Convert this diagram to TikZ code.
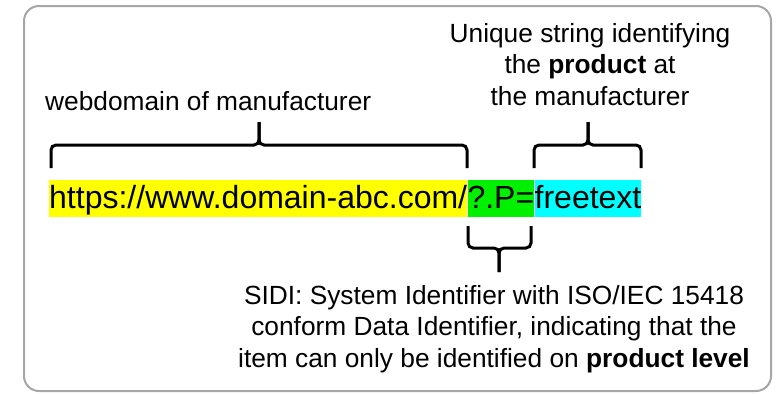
\documentclass[tikz,border=0pt]{standalone}
\usepackage{fontspec}
\setmainfont{Liberation Sans}
\usetikzlibrary{calc}
\definecolor{framegray}{RGB}{166,166,166}
\definecolor{hlyellow}{RGB}{255,255,0}
\definecolor{hlgreen}{RGB}{0,240,0}
\definecolor{hlcyan}{RGB}{0,255,255}
\newcommand{\mybrace}[6]{%
  \draw[bracestyle] (#1,#4) -- (#1,#5) -- (#3,#5) -- (#3,#6);
  \draw[bracestyle] (#2,#4) -- (#2,#5) -- (#3,#5) -- (#3,#6);}
\begin{document}
\begin{tikzpicture}[x=1pt,y=-1pt,
  urlpart/.style={inner sep=0pt, text height=28pt, text depth=9pt,
    font=\fontsize{32}{38}\selectfont, anchor=base west},
  label/.style={inner sep=0pt, align=center, anchor=base,
    font=\fontsize{26.3}{31.5}\selectfont},
  bracestyle/.style={line width=3pt, rounded corners=5pt, black}]
\useasboundingbox (0,0) rectangle (780,394);
\draw[framegray, line width=2pt, rounded corners=15pt] (24,6) rectangle (771,391);

\node[urlpart, fill=hlyellow] (u1) at (49,208) {https://www.domain-abc.com/};
\node[urlpart, fill=hlgreen] (u2) at (u1.base east) {?.P=};
\node[urlpart, fill=hlcyan] (u3) at (u2.base east) {freetext};

\node[label, anchor=base west] (dom) at (45,110) {webdomain of manufacturer};
\node[label] (uniq) at (590,105) {Unique string identifying\\the \textbf{product} at\\the manufacturer};
\node[label] (sidi) at (494,367) {SIDI: System Identifier with ISO/IEC 15418\\conform Data Identifier, indicating that the\\item can only be identified on \textbf{product level}};

\mybrace{51}{467}{259}{168}{145}{122}
\mybrace{534}{641}{588}{168}{145}{122}
\mybrace{468}{531}{499}{226}{248}{272}
\end{tikzpicture}
\end{document}
